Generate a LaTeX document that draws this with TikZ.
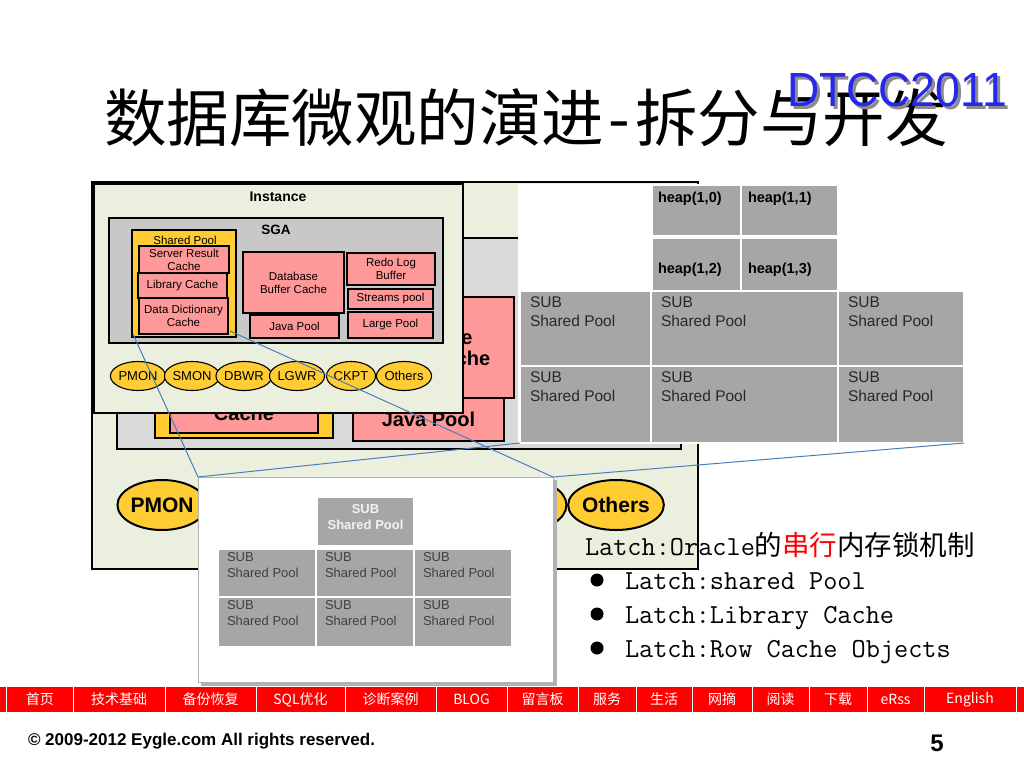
\documentclass[tikz,border=0pt]{standalone}
\usepackage{fontspec}
\setmainfont{Liberation Sans}
\newfontfamily\cjk{Noto Sans CJK SC}
\usetikzlibrary{shapes.geometric}
\definecolor{beige}{RGB}{235,239,222}
\definecolor{sgagray}{RGB}{200,200,200}
\definecolor{sgalight}{RGB}{217,217,217}
\definecolor{pinkbox}{RGB}{255,153,153}
\definecolor{yel}{RGB}{255,204,51}
\definecolor{heapgray}{RGB}{166,166,166}
\definecolor{zoomblue}{RGB}{74,126,187}
\definecolor{dtccblue}{RGB}{40,40,235}
\definecolor{navred}{RGB}{255,0,0}
\definecolor{subtext}{RGB}{40,40,40}
\newcommand\mybox[7]{\node[#1, minimum width={(#5)-(#3)}, minimum height={(#6)-(#4)}] (#2) at ({((#3)+(#5))/2},{((#4)+(#6))/2}) {#7};}
\begin{document}
\begin{tikzpicture}[x=1pt,y=-1pt,
  every node/.style={inner sep=0pt, outer sep=0pt},
  bk/.style={draw=black, line width=2.4pt, align=center, font=\bfseries\fontsize{20}{21}\selectfont},
  fr/.style={draw=black, line width=1.1pt, align=center, font=\fontsize{11.5}{13}\selectfont},
  bell/.style={ellipse, draw=black, line width=2pt, fill=yel, minimum width=80, minimum height=50, font=\bfseries\fontsize{21}{21}\selectfont},
  fell/.style={ellipse, draw=black, line width=1.1pt, fill=yel, minimum width=49, minimum height=29, font=\fontsize{13}{13}\selectfont},
  hcell/.style={fill=heapgray, draw=white, line width=1.2pt},
  htxt/.style={anchor=west, font=\bfseries\fontsize{14.5}{16}\selectfont},
  stxt/.style={anchor=north west, align=left, text=subtext, font=\fontsize{15.5}{19}\selectfont},
  ztxt/.style={anchor=north west, align=left, text=black!75, font=\fontsize{13}{16}\selectfont},
  zoomline/.style={draw=zoomblue, line width=1pt},
  nav/.style={text=white, font=\cjk\fontsize{14}{14}\selectfont},
  latch/.style={anchor=base west, font=\ttfamily\fontsize{27.5}{27.5}\selectfont}
]
\useasboundingbox[fill=white] (0,0) rectangle (1024,768);

% ---- enlarged background diagram ----
\mybox{bk, fill=beige}{bout}{92}{182}{698}{569}{}
\mybox{bk, fill=sgalight}{bsga}{117}{238}{681}{449}{}
\mybox{bk, fill=pinkbox}{bdbc}{342}{297}{514}{398}{Database\\Buffer Cache}
\mybox{bk, fill=yel}{bsp}{155}{260}{333}{438}{}
\mybox{bk, fill=pinkbox}{bddc}{170}{372}{318}{433}{Data Dictionary\\Cache}
\mybox{bk, fill=pinkbox}{bjava}{353}{398}{504}{441}{Java Pool}
\node[bell] (bpmon) at (162,505) {PMON};
\node[bell] (bckpt) at (526,505) {CKPT};
\node[bell, minimum width=84] (both) at (616,505) {Others};

% ---- heap image ----
\fill[white] (518,184) rectangle (964,443);
\mybox{hcell}{h10}{652}{185}{741}{236}{}
\mybox{hcell}{h11}{741}{185}{838}{236}{}
\mybox{hcell}{h12}{652}{238}{741}{291}{}
\mybox{hcell}{h13}{741}{238}{838}{291}{}
\node[htxt] (th10) at (658,199) {heap(1,0)};
\node[htxt] (th11) at (748,199) {heap(1,1)};
\node[htxt] (th12) at (658,270) {heap(1,2)};
\node[htxt] (th13) at (748,270) {heap(1,3)};
\mybox{hcell}{s11}{520}{291}{651}{366}{}
\mybox{hcell}{s12}{651}{291}{838}{366}{}
\mybox{hcell}{s13}{838}{291}{964}{366}{}
\mybox{hcell}{s21}{520}{366}{651}{443}{}
\mybox{hcell}{s22}{651}{366}{838}{443}{}
\mybox{hcell}{s23}{838}{366}{964}{443}{}
\foreach \c in {s11,s12,s13,s21,s22,s23}
  \node[stxt] (t\c) at ([shift={(10,6)}]\c.north west) {SUB\\Shared Pool};

% ---- instance panel ----
\mybox{fr, fill=beige}{inst}{94}{184}{463}{413}{}
\node[font=\bfseries\fontsize{14}{14}\selectfont] (tinst) at (278,197) {Instance};
\mybox{fr, fill=sgagray}{sga}{109}{218}{443}{343}{}
\node[font=\bfseries\fontsize{13.5}{14}\selectfont] (tsga) at (276,230) {SGA};
\mybox{fr, fill=yel}{sp}{132}{230}{236}{337}{}
\node[font=\fontsize{11.5}{12}\selectfont] (tsp) at (185,240) {Shared Pool};
\mybox{fr, fill=pinkbox}{src}{139}{246}{229}{273}{Server Result\\Cache}
\mybox{fr, fill=pinkbox}{lib}{138}{273}{227}{298}{Library Cache}
\mybox{fr, fill=pinkbox}{ddc}{139}{298}{228}{334}{Data Dictionary\\Cache}
\mybox{fr, fill=pinkbox}{dbc}{243}{252}{344}{313}{Database\\Buffer Cache}
\mybox{fr, fill=pinkbox}{java}{250}{315}{339}{338}{Java Pool}
\mybox{fr, fill=pinkbox}{redo}{347}{253}{435}{285}{Redo Log\\Buffer}
\mybox{fr, fill=pinkbox}{strm}{348}{289}{433}{309}{Streams pool}
\mybox{fr, fill=pinkbox}{large}{348}{312}{433}{338}{Large Pool}
\node[fell] (pmon) at (138,376) {PMON};
\node[fell] (smon) at (192,376) {SMON};
\node[fell] (dbwr) at (244,376) {DBWR};
\node[fell] (lgwr) at (297,376) {LGWR};
\node[fell] (ckpt) at (351,376) {CKPT};
\node[fell] (oth) at (404,376) {Others};

% ---- zoom panel ----
\fill[black!30] (201,480) rectangle (557,686);
\mybox{fill=white, draw=black!30, line width=0.6pt}{zp}{198}{477}{553}{682}{}
\mybox{hcell}{z0}{317}{497}{414}{546}{}
\node[font=\bfseries\fontsize{13}{16}\selectfont, text=white!95!black, align=center] (tz0) at (365.5,517) {SUB\\Shared Pool};
\mybox{hcell}{z11}{218}{549}{316}{597}{}
\mybox{hcell}{z12}{316}{549}{414}{597}{}
\mybox{hcell}{z13}{414}{549}{512}{597}{}
\mybox{hcell}{z21}{218}{597}{316}{647}{}
\mybox{hcell}{z22}{316}{597}{414}{647}{}
\mybox{hcell}{z23}{414}{597}{512}{647}{}
\foreach \c in {z11,z12,z13,z21,z22,z23}
  \node[ztxt] (t\c) at ([shift={(9,3)}]\c.north west) {SUB\\Shared Pool};

% ---- zoom connector lines ----
\coordinate (spBL) at (133,334);
\coordinate (spBR) at (230,331);
\draw[zoomline] (spBL) -- (zp.north west);
\draw[zoomline] (spBR) -- (zp.north east);
\draw[zoomline] (s21.south west) -- (zp.north west);
\draw[zoomline] (s23.south east) -- (zp.north east);

% ---- title ----
\node[anchor=west, font=\cjk\fontsize{62.5}{62.5}\selectfont] (title) at (104,118) {数据库微观的演进\makebox[0.5em]{-}拆分与开发};
\node[anchor=west, font=\fontsize{48}{48}\selectfont, text=black!45, xscale=0.93] (dtccs) at (790,93) {DTCC2011};
\node[anchor=west, font=\fontsize{48}{48}\selectfont, text=dtccblue, xscale=0.93] (dtcc) at (787,90) {DTCC2011};

% ---- latch text ----
\node[latch] (l1) at (585,555) {Latch:Oracle{\cjk 的\textcolor{red}{串行}内存锁机制}};
\node[circle, fill=black, minimum size=13] (b1) at (597,580) {};
\node[circle, fill=black, minimum size=13] (b2) at (597,614) {};
\node[circle, fill=black, minimum size=13] (b3) at (597,648) {};
\node[latch] (l2) at (625,589) {Latch:shared Pool};
\node[latch] (l3) at (625,623) {Latch:Library Cache};
\node[latch] (l4) at (625,657) {Latch:Row Cache Objects};

% ---- nav bar ----
\fill[navred] (0,687) rectangle (1024,712);
\foreach \x in {6.5,73,165,256,345,436,507,578,636,692,752,809,867,924,1016}
  \draw[white, line width=1pt] (\x,687) -- (\x,712);
\foreach \a/\b/\t [count=\i] in {6.5/73/首页, 73/165/技术基础, 165/256/备份恢复, 256/345/SQL优化, 345/436/诊断案例, 436/507/BLOG, 507/578/留言板, 578/636/服务, 636/692/生活, 692/752/网摘, 752/809/阅读, 809/867/下载, 867/924/eRss, 924/1016/English}
  \node[nav] (nav\i) at ({(\a+\b)/2},699.5) {\t};

% ---- footer ----
\node[anchor=west, font=\bfseries\fontsize{17}{17}\selectfont] (copy) at (28,741) {© 2009-2012 Eygle.com All rights reserved.};
\node[font=\bfseries\fontsize{24}{24}\selectfont] (pg) at (937,743) {5};
\end{tikzpicture}
\end{document}
